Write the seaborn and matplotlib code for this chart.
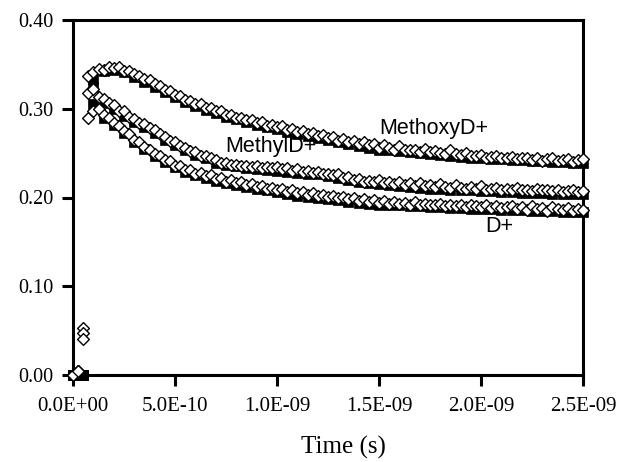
import numpy as np
import pandas as pd
import matplotlib
matplotlib.use("Agg")
import matplotlib.pyplot as plt
from matplotlib.ticker import FuncFormatter
import seaborn as sns

# ---------------- data ----------------
# open-diamond series, sampled every 0.025 ns starting at t = 0
diamond_step_s = 0.025e-9
methoxy_diamonds = [0.000, 0.004, 0.053,
    0.337, 0.341, 0.345, 0.344, 0.347, 0.346, 0.347, 0.343, 0.342, 0.339,
    0.337, 0.333, 0.332, 0.328, 0.326, 0.321, 0.320, 0.316, 0.314, 0.310,
    0.309, 0.305, 0.305, 0.301, 0.301, 0.297, 0.297, 0.293, 0.293, 0.290,
    0.290, 0.287, 0.287, 0.284, 0.285, 0.281, 0.282, 0.279, 0.280, 0.276,
    0.277, 0.274, 0.275, 0.271, 0.273, 0.269, 0.270, 0.267, 0.268, 0.264,
    0.266, 0.262, 0.264, 0.260, 0.262, 0.259, 0.260, 0.256, 0.259, 0.256,
    0.253, 0.258, 0.254, 0.254, 0.253, 0.251, 0.255, 0.251, 0.252, 0.250,
    0.249, 0.253, 0.249, 0.248, 0.250, 0.247, 0.247, 0.248, 0.245, 0.246,
    0.247, 0.244, 0.245, 0.246, 0.243, 0.244, 0.245, 0.242, 0.244, 0.241,
    0.243, 0.244, 0.241, 0.242, 0.243, 0.240, 0.242, 0.243]
methyl_diamonds = [0.000, 0.004, 0.047,
    0.318, 0.322, 0.313, 0.311, 0.306, 0.304, 0.298, 0.297, 0.291, 0.289,
    0.284, 0.283, 0.278, 0.276, 0.272, 0.268, 0.264, 0.262, 0.258, 0.256,
    0.252, 0.251, 0.247, 0.247, 0.244, 0.242, 0.239, 0.239, 0.237, 0.237,
    0.235, 0.236, 0.234, 0.235, 0.233, 0.234, 0.233, 0.234, 0.232, 0.233,
    0.230, 0.232, 0.229, 0.230, 0.228, 0.229, 0.226, 0.227, 0.225, 0.226,
    0.222, 0.223, 0.220, 0.221, 0.218, 0.219, 0.217, 0.220, 0.216, 0.217,
    0.215, 0.218, 0.214, 0.216, 0.213, 0.216, 0.213, 0.214, 0.212, 0.215,
    0.212, 0.211, 0.214, 0.211, 0.210, 0.212, 0.210, 0.213, 0.209, 0.210,
    0.211, 0.209, 0.210, 0.208, 0.211, 0.208, 0.209, 0.207, 0.210, 0.208,
    0.208, 0.207, 0.209, 0.206, 0.207, 0.208, 0.206, 0.207]
d_diamonds = [0.000, 0.004, 0.041,
    0.290, 0.297, 0.300, 0.293, 0.290, 0.284, 0.281, 0.275, 0.272, 0.265,
    0.263, 0.257, 0.254, 0.249, 0.247, 0.242, 0.241, 0.236, 0.235, 0.231,
    0.231, 0.227, 0.228, 0.224, 0.225, 0.221, 0.222, 0.218, 0.220, 0.216,
    0.217, 0.214, 0.215, 0.212, 0.213, 0.210, 0.211, 0.208, 0.210, 0.206,
    0.208, 0.205, 0.206, 0.203, 0.205, 0.202, 0.203, 0.201, 0.202, 0.199,
    0.201, 0.198, 0.199, 0.196, 0.198, 0.195, 0.197, 0.194, 0.196, 0.193,
    0.195, 0.193, 0.194, 0.192, 0.195, 0.191, 0.193, 0.192, 0.191, 0.193,
    0.190, 0.192, 0.190, 0.191, 0.189, 0.192, 0.190, 0.189, 0.191, 0.188,
    0.190, 0.188, 0.189, 0.190, 0.187, 0.189, 0.186, 0.190, 0.187, 0.188,
    0.185, 0.189, 0.187, 0.186, 0.188, 0.185, 0.187, 0.186]

# filled-square series, sampled every 0.05 ns starting at t = 0
square_step_s = 0.05e-9
methoxy_squares = [0.000, 0.000,
    0.333, 0.343, 0.344, 0.341, 0.336, 0.330, 0.325, 0.319, 0.313, 0.308,
    0.303, 0.299, 0.295, 0.291, 0.288, 0.285, 0.282, 0.279, 0.277, 0.274,
    0.272, 0.269, 0.267, 0.265, 0.263, 0.260, 0.258, 0.256, 0.254, 0.253,
    0.252, 0.251, 0.250, 0.249, 0.248, 0.247, 0.246, 0.245, 0.244, 0.243,
    0.243, 0.242, 0.242, 0.241, 0.241, 0.240, 0.240, 0.239, 0.239]
methyl_squares = [0.000, 0.000,
    0.324, 0.307, 0.300, 0.292, 0.285, 0.279, 0.273, 0.265, 0.259, 0.253,
    0.248, 0.244, 0.239, 0.237, 0.235, 0.233, 0.232, 0.231, 0.230, 0.229,
    0.228, 0.227, 0.226, 0.224, 0.222, 0.220, 0.218, 0.216, 0.215, 0.214,
    0.213, 0.212, 0.211, 0.210, 0.210, 0.209, 0.208, 0.208, 0.207, 0.207,
    0.206, 0.206, 0.205, 0.205, 0.205, 0.204, 0.204, 0.204, 0.204]
d_squares = [0.000, 0.000,
    0.305, 0.290, 0.282, 0.273, 0.263, 0.255, 0.247, 0.240, 0.234, 0.229,
    0.225, 0.222, 0.219, 0.216, 0.214, 0.212, 0.210, 0.208, 0.206, 0.204,
    0.202, 0.201, 0.199, 0.198, 0.197, 0.195, 0.194, 0.193, 0.192, 0.191,
    0.191, 0.190, 0.190, 0.189, 0.189, 0.188, 0.188, 0.187, 0.187, 0.187,
    0.186, 0.186, 0.186, 0.185, 0.185, 0.185, 0.184, 0.184, 0.184]

series_names = ["MethoxyD+", "MethylD+", "D+"]
label_x_s = [1.50e-9, 0.745e-9, 2.02e-9]
label_y = [0.272, 0.251, 0.161]

x_ticks = [0.0, 0.5e-9, 1.0e-9, 1.5e-9, 2.0e-9, 2.5e-9]
y_ticks = [0.0, 0.1, 0.2, 0.3, 0.4]
x_label = "Time (s)"

# ---------------- figure ----------------
sns.set_theme(style="ticks")
plt.rcParams["font.family"] = ["Liberation Serif", "DejaVu Serif"]

fig = plt.figure(figsize=(6.2, 4.62), dpi=100)
ax = fig.add_axes([73 / 620, 1 - 375 / 462, 510 / 620, 355 / 462])

diamond_sets = [methoxy_diamonds, methyl_diamonds, d_diamonds]
square_sets = [methoxy_squares, methyl_squares, d_squares]

for name, dia, sq in zip(series_names, diamond_sets, square_sets):
    df_sq = pd.DataFrame({"t": np.arange(len(sq)) * square_step_s, "v": sq})
    df_di = pd.DataFrame({"t": np.arange(len(dia)) * diamond_step_s, "v": dia})
    sns.scatterplot(data=df_sq, x="t", y="v", ax=ax, marker="s", s=48,
                    color="black", edgecolor="black", linewidth=0.5,
                    clip_on=False, zorder=3, legend=False)
    sns.scatterplot(data=df_di, x="t", y="v", ax=ax, marker="D", s=36,
                    color="white", edgecolor="black", linewidth=1.0,
                    clip_on=False, zorder=4, legend=False)

for name, lx, ly in zip(series_names, label_x_s, label_y):
    ax.text(lx, ly, name, family=["Liberation Sans", "DejaVu Sans"],
            fontsize=15.5, color="black", ha="left", va="baseline", zorder=6)

ax.set_xlim(0, 2.5e-9)
ax.set_ylim(0, 0.4)
ax.set_xticks(x_ticks)
ax.set_yticks(y_ticks)
ax.xaxis.set_major_formatter(FuncFormatter(lambda v, p: f"{v:.1E}"))
ax.yaxis.set_major_formatter(FuncFormatter(lambda v, p: f"{v:.2f}"))
ax.set_xlabel(x_label, fontsize=18, color="black")
ax.xaxis.set_label_coords(0.53, -0.172)
ax.set_ylabel("")

for sp in ax.spines.values():
    sp.set_visible(True)
    sp.set_linewidth(2.2)
    sp.set_color("black")
ax.tick_params(axis="x", direction="out", length=8, width=2.2, pad=8,
               labelsize=15, colors="black", top=False)
ax.tick_params(axis="y", direction="out", length=8, width=2.2, pad=6,
               labelsize=14.5, colors="black", right=False)
ax.set_facecolor("white")
fig.patch.set_facecolor("white")

fig.savefig("out.png", dpi=100, facecolor="white")
